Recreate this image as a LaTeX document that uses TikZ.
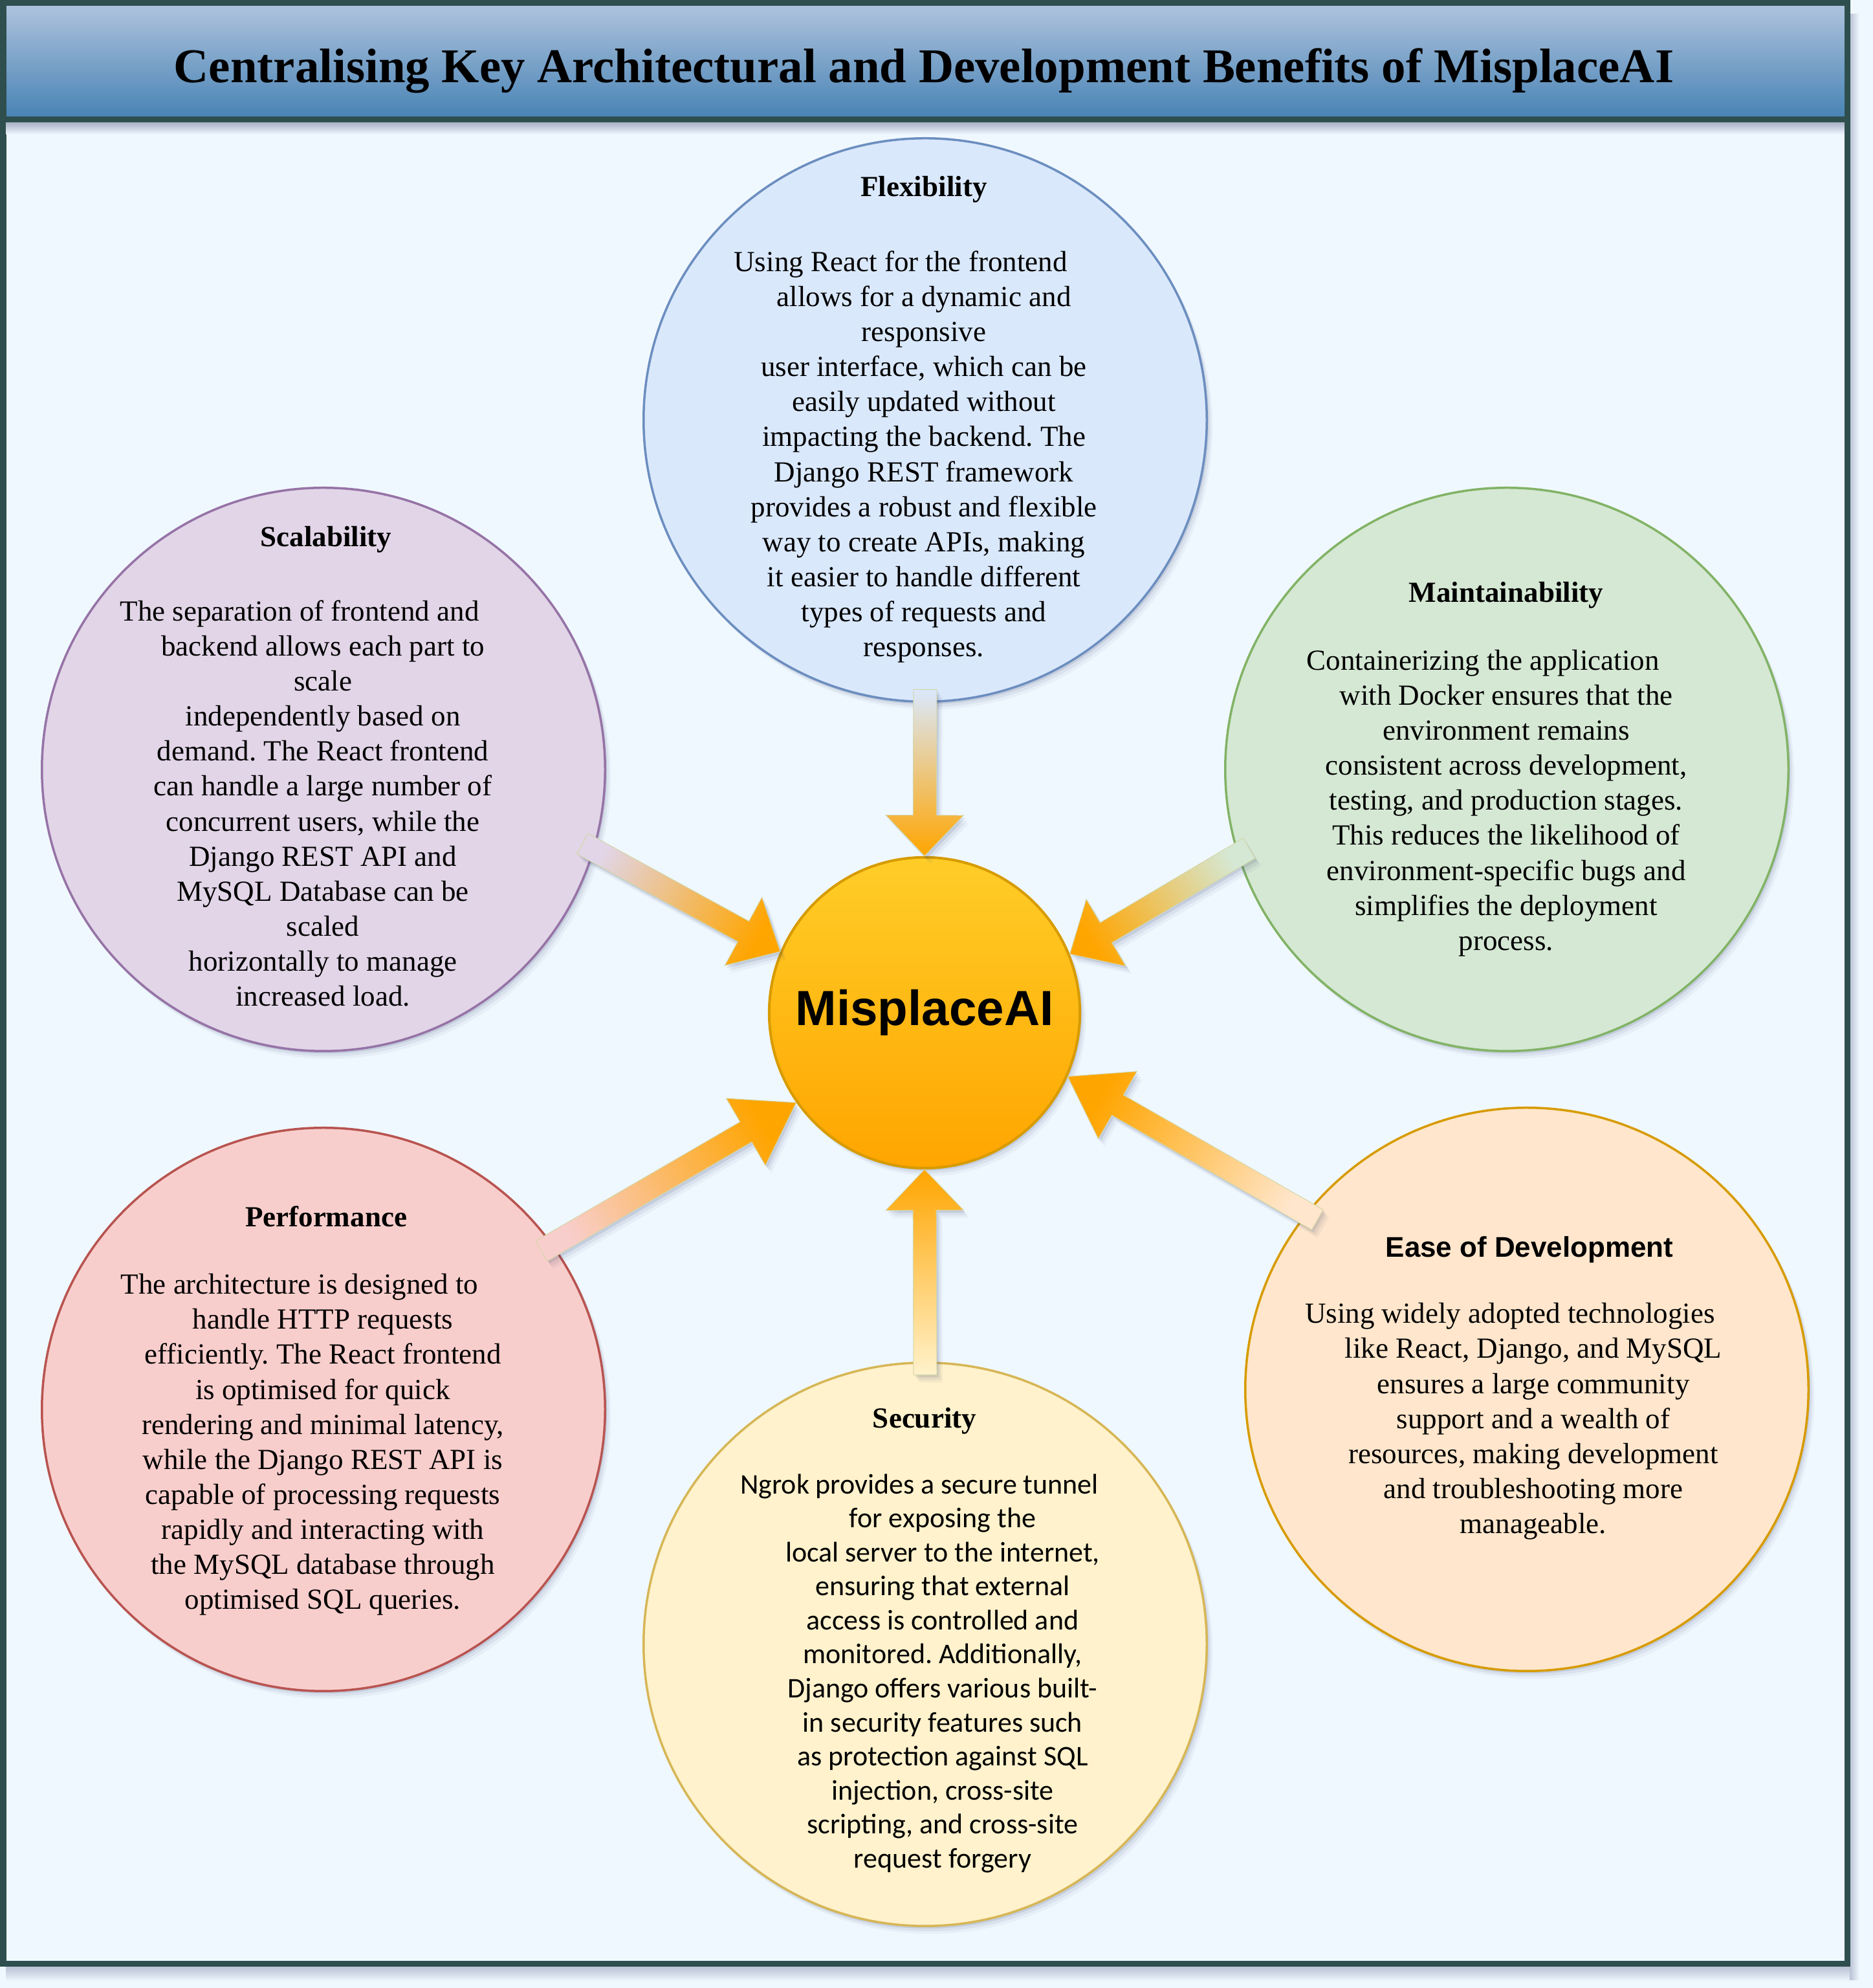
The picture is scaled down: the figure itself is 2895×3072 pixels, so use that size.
\documentclass[tikz,border=0pt]{standalone}
\usepackage{fontspec}
\setmainfont{Liberation Serif}
\newfontfamily\calibrifont{Carlito}
\newfontfamily\arialfont{Liberation Sans}
\frenchspacing
\usepackage{tikz}
\usetikzlibrary{calc}
\usetikzlibrary{shadows}

\definecolor{framec}{HTML}{2F4F4F}
\definecolor{pagebg}{HTML}{F0F8FF}
\definecolor{bandtop}{HTML}{B0C4DE}
\definecolor{bandbot}{HTML}{4682B4}
\definecolor{shadowc}{HTML}{3A4670}
\definecolor{flexfill}{HTML}{DAE8FC}
\definecolor{flexline}{HTML}{6C8EBF}
\definecolor{scalfill}{HTML}{E1D5E7}
\definecolor{scalline}{HTML}{9673A6}
\definecolor{maintfill}{HTML}{D5E8D4}
\definecolor{maintline}{HTML}{82B366}
\definecolor{perffill}{HTML}{F8CECC}
\definecolor{perfline}{HTML}{B85450}
\definecolor{secfill}{HTML}{FFF2CC}
\definecolor{secline}{HTML}{D6B656}
\definecolor{easefill}{HTML}{FFE6CC}
\definecolor{easeline}{HTML}{D79B00}
\definecolor{coretop}{HTML}{FFCD28}
\definecolor{corebot}{HTML}{FFA500}
\definecolor{arrowline}{HTML}{D2D6A8}

\tikzset{
  softshadow/.style={
    drop shadow={shadow xshift=0.03cm, shadow yshift=-0.04cm, opacity=0.12, fill=shadowc},
    drop shadow={shadow xshift=0.06cm, shadow yshift=-0.08cm, opacity=0.08, fill=shadowc},
    drop shadow={shadow xshift=0.09cm, shadow yshift=-0.12cm, opacity=0.05, fill=shadowc}},
  bubble/.style={circle, minimum size=8.7cm, line width=0.035cm, softshadow},
  bubbletext/.style={align=center, inner sep=0pt, anchor=north,
    font=\fontsize{12.8}{15.4}\selectfont},
  hub/.style={circle, minimum size=4.8cm, line width=0.04cm, draw=easeline,
    top color=coretop, bottom color=corebot, softshadow,
    font=\arialfont\bfseries\fontsize{21.7}{26}\selectfont},
  flow/.style={draw=arrowline, line width=0.01cm, softshadow}
}
\newcommand\gap[1]{\rule{#1}{0pt}}

\begin{document}
\begin{tikzpicture}[x=0.01cm, y=0.01cm]
\fill[pagebg] (0,0) rectangle (2895,3072);
\shade[top color=shadowc!30!pagebg, bottom color=pagebg] (9,33) rectangle (2872,10);
\shade[left color=shadowc!30!pagebg, right color=pagebg] (2859,3050) rectangle (2874,12);
\draw[framec, line width=0.09cm, fill=pagebg] (5,37.5) rectangle (2855,3067.5);
\shade[top color=shadowc!40!pagebg, bottom color=pagebg] (9.5,2883) rectangle (2850.5,2864);
\shade[top color=bandtop, bottom color=bandbot, draw=framec, line width=0.09cm]
  (5,2887.5) rectangle (2855,3067.5);
\node[anchor=base, font=\bfseries\fontsize{21.3}{25}\selectfont] (title) at (1428,2944)
  {Centralising Key Architectural and Development Benefits of MisplaceAI};

\node[bubble, draw=flexline, fill=flexfill] (flex) at (1430,2423) {};
\node[bubble, draw=scalline, fill=scalfill] (scal) at (500,1883) {};
\node[bubble, draw=maintline, fill=maintfill] (maint) at (2329,1883) {};
\node[bubble, draw=perfline, fill=perffill] (perf) at (500,894) {};
\node[bubble, draw=secline, fill=secfill] (sec) at (1430,531) {};
\node[bubble, draw=easeline, fill=easefill] (ease) at (2360,925) {};

\node[bubbletext] (flex-text) at (1428,2800) {\textbf{Flexibility}\\[0.61cm]
  Using React for the frontend\gap{0.72cm}\\
  allows for a dynamic and\\
  responsive\\
  user interface, which can be\\
  easily updated without\\
  impacting the backend. The\\
  Django REST framework\\
  provides a robust and flexible\\
  way to create APIs, making\\
  it easier to handle different\\
  types of requests and\\
  responses.};
\node[bubbletext] (scal-text) at (499,2259) {\gap{0.1cm}\textbf{Scalability}\\[0.6cm]
  The separation of frontend and\gap{0.72cm}\\
  backend allows each part to\\
  scale\\
  independently based on\\
  demand. The React frontend\\
  can handle a large number of\\
  concurrent users, while the\\
  Django REST API and\\
  MySQL Database can be\\
  scaled\\
  horizontally to manage\\
  increased load.};
\node[bubbletext] (maint-text) at (2328,2173) {\textbf{Maintainability}\\[0.5cm]
  Containerizing the application\gap{0.72cm}\\
  with Docker ensures that the\\
  environment remains\\
  consistent across development,\\
  testing, and production stages.\\
  This reduces the likelihood of\\
  environment-specific bugs and\\
  simplifies the deployment\\
  process.};
\node[bubbletext] (perf-text) at (499,1209) {\gap{0.1cm}\textbf{Performance}\\[0.5cm]
  The architecture is designed to\gap{0.72cm}\\
  handle HTTP requests\\
  efficiently. The React frontend\\
  is optimised for quick\\
  rendering and minimal latency,\\
  while the Django REST API is\\
  capable of processing requests\\
  rapidly and interacting with\\
  the MySQL database through\\
  optimised SQL queries.};
\node[bubbletext, font=\calibrifont\fontsize{12.5}{14.95}\selectfont] (sec-text) at (1457,897)
  {{\rmfamily\bfseries\fontsize{12.8}{14.95}\selectfont Security\gap{0.56cm}}\\[0.485cm]
  Ngrok provides a secure tunnel\gap{0.72cm}\\
  for exposing the\\
  local server to the internet,\\
  ensuring that external\\
  access is controlled and\\
  monitored. Additionally,\\
  Django offers various built-\\
  in security features such\\
  as protection against SQL\\
  injection, cross-site\\
  scripting, and cross-site\\
  request forgery};
\node[bubbletext] (ease-text) at (2370,1162)
  {{\arialfont\bfseries\fontsize{12.5}{15.4}\selectfont Ease of Development\gap{0.12cm}}\\[0.48cm]
  Using widely adopted technologies\gap{0.72cm}\\
  like React, Django, and MySQL\\
  ensures a large community\\
  support and a wealth of\\
  resources, making development\\
  and troubleshooting more\\
  manageable.};

\node[hub] (core) at (1429,1507) {MisplaceAI};

\foreach \src/\ts/\hd/\shang/\hlen in {flex/-90/90/0/0.63, scal/-16/157/61.7/0.65,
    maint/-163/22/300.1/0.65, perf/36/-145/119.8/0.9, sec/90/-90/180/0.63, ease/141/-24/240.2/0.89}{
  \coordinate (\src-tail) at ($(\src.center)!0.953!(\src.\ts)$);
  \coordinate (\src-tip) at (core.\hd);
  \coordinate (\src-neck) at ($(\src-tip)!\hlen cm!(\src-tail)$);
  \shade[flow, left color=\src fill, right color=corebot, shading angle=\shang]
    ($(\src-tail)!0.18cm!90:(\src-tip)$) -- ($(\src-neck)!0.18cm!90:(\src-tip)$)
    -- ($(\src-neck)!0.6cm!90:(\src-tip)$) -- (\src-tip)
    -- ($(\src-neck)!0.6cm!-90:(\src-tip)$) -- ($(\src-neck)!0.18cm!-90:(\src-tip)$)
    -- ($(\src-tail)!0.18cm!-90:(\src-tip)$) -- cycle;
}
\end{tikzpicture}
\end{document}
